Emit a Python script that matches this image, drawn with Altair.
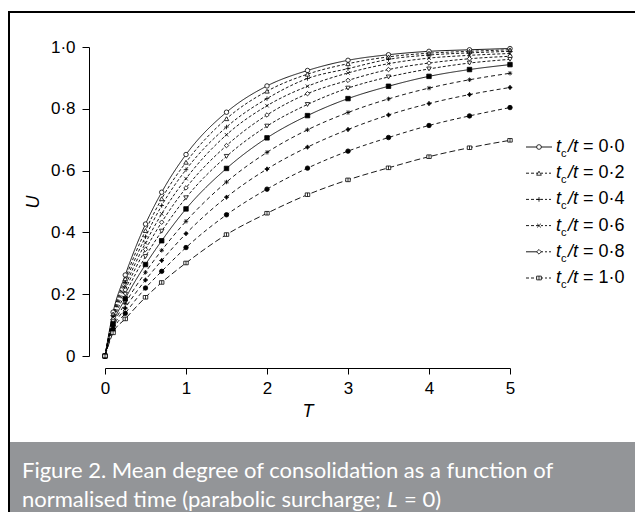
import altair as alt
import pandas as pd

# ---------------- data ----------------
T_VALUES = [0, 0.1, 0.25, 0.5, 0.7, 1.0, 1.5, 2.0, 2.5, 3.0, 3.5, 4.0, 4.5, 5.0]

u_s0 = [0, 0.142, 0.262, 0.427, 0.530, 0.652, 0.789, 0.874, 0.924, 0.957, 0.975, 0.986, 0.991, 0.995]
u_s1 = [0, 0.136, 0.250, 0.406, 0.509, 0.627, 0.768, 0.857, 0.912, 0.946, 0.968, 0.980, 0.986, 0.991]
u_s2 = [0, 0.130, 0.238, 0.386, 0.487, 0.603, 0.741, 0.833, 0.898, 0.930, 0.960, 0.974, 0.981, 0.986]
u_s3 = [0, 0.124, 0.226, 0.366, 0.460, 0.574, 0.716, 0.810, 0.873, 0.916, 0.946, 0.964, 0.973, 0.979]
u_s4 = [0, 0.118, 0.214, 0.345, 0.433, 0.544, 0.681, 0.780, 0.849, 0.892, 0.927, 0.948, 0.962, 0.970]
u_s5 = [0, 0.111, 0.200, 0.322, 0.404, 0.512, 0.646, 0.744, 0.814, 0.867, 0.903, 0.929, 0.948, 0.960]
u_s6 = [0, 0.104, 0.185, 0.296, 0.373, 0.476, 0.607, 0.706, 0.778, 0.833, 0.873, 0.905, 0.927, 0.943]
u_s7 = [0, 0.097, 0.170, 0.271, 0.342, 0.436, 0.563, 0.659, 0.732, 0.788, 0.832, 0.867, 0.894, 0.915]
u_s8 = [0, 0.090, 0.155, 0.246, 0.309, 0.396, 0.514, 0.605, 0.676, 0.733, 0.780, 0.817, 0.846, 0.869]
u_s9 = [0, 0.083, 0.138, 0.220, 0.274, 0.351, 0.457, 0.540, 0.608, 0.663, 0.707, 0.746, 0.777, 0.804]
u_s10 = [0, 0.075, 0.120, 0.190, 0.238, 0.301, 0.393, 0.462, 0.522, 0.570, 0.609, 0.645, 0.674, 0.698]

SERIES = ["s0", "s1", "s2", "s3", "s4", "s5", "s6", "s7", "s8", "s9", "s10"]
SERIES_U = [u_s0, u_s1, u_s2, u_s3, u_s4, u_s5, u_s6, u_s7, u_s8, u_s9, u_s10]

LEGEND_SERIES = ["s0", "s1", "s2", "s3", "s4", "s10"]
LEGEND_VALUES = ["0·0", "0·2", "0·4", "0·6", "0·8", "1·0"]

Y_TICKS = [0, 0.2, 0.4, 0.6, 0.8, 1.0]
X_TICKS = [0, 1, 2, 3, 4, 5]

CAPTION_1 = "Figure 2. Mean degree of consolidation as a function of"
CAPTION_2A = "normalised time (parabolic surcharge;"
CAPTION_2B = "L"
CAPTION_2C = "= 0)"

# ---------------- styles ----------------
FONT = "Liberation Sans"
CAP_FONT = "Lato"
W, H = 405, 309

SHAPES = [
    "circle",
    "triangle-up",
    "M-1,0L1,0M0,-1L0,1",
    "M-0.8,-0.8L0.8,0.8M-0.8,0.8L0.8,-0.8",
    "diamond",
    "triangle-down",
    "square",
    "M-1,0L1,0M0,-1L0,1M-0.7,-0.7L0.7,0.7M-0.7,0.7L0.7,-0.7",
    "M0,-1L0.45,-0.3L1,0L0.45,0.3L0,1L-0.45,0.3L-1,0L-0.45,-0.3Z",
    "circle",
    "M-1,-0.8L1,-0.8L1,0.8L-1,0.8ZM0,-0.8L0,0.8",
]
FILLS = ["white", "white", "white", "white", "white", "white",
         "black", "black", "black", "black", "white"]
DASHES = [[1, 0], [3, 2], [3, 2], [3, 2], [3, 2], [3, 2],
          [1, 0], [4, 3], [4, 3], [4, 3], [6, 3]]
LEG_LEFT_SOLID = [True, False, False, False, True, False]

rows = []
for s, us in zip(SERIES, SERIES_U):
    for t, u in zip(T_VALUES, us):
        rows.append({"series": s, "T": t, "U": u})
df = pd.DataFrame(rows)

leg = pd.DataFrame({
    "idx": list(range(len(LEGEND_VALUES))),
    "series": LEGEND_SERIES,
    "val": ["= " + v for v in LEGEND_VALUES],
    "lsolid": LEG_LEFT_SOLID,
})

one = pd.DataFrame({"k": [0]})

x_enc = alt.X("T:Q", scale=alt.Scale(domain=[0, 5], nice=False, zero=False),
              axis=alt.Axis(values=X_TICKS, format="d", offset=12, tickSize=6, labelPadding=6,
                            labelFlush=False, labelOverlap=False, grid=False,
                            domainColor="black", tickColor="black", labelColor="black",
                            labelFont=FONT, labelFontSize=17,
                            title="T", titleFont=FONT, titleFontSize=18,
                            titleFontStyle="italic", titleFontWeight="normal",
                            titleColor="black", titlePadding=6))
y_enc = alt.Y("U:Q", scale=alt.Scale(domain=[0, 1], nice=False),
              axis=alt.Axis(values=Y_TICKS, offset=16, tickSize=7, labelPadding=7,
                            labelFlush=False, labelOverlap=False, grid=False,
                            labelExpr="datum.value == 0 ? '0' : replace(format(datum.value, '.1f'), '.', '·')",
                            domainColor="black", tickColor="black", labelColor="black",
                            labelFont=FONT, labelFontSize=17,
                            title="U", titleFont=FONT, titleFontSize=18,
                            titleFontStyle="italic", titleFontWeight="normal",
                            titleColor="black", titlePadding=8))

shape_enc = alt.Shape("series:N", scale=alt.Scale(domain=SERIES, range=SHAPES), legend=None)
fill_enc = alt.Fill("series:N", scale=alt.Scale(domain=SERIES, range=FILLS), legend=None)

lines = alt.Chart(df).mark_line(color="black", strokeWidth=0.9, interpolate="monotone").encode(
    x=x_enc, y=y_enc,
    strokeDash=alt.StrokeDash("series:N", scale=alt.Scale(domain=SERIES, range=DASHES), legend=None),
)
points = alt.Chart(df).mark_point(filled=True, stroke="black", strokeWidth=0.8, size=20, opacity=1).encode(
    x="T:Q", y="U:Q", shape=shape_enc, fill=fill_enc,
)
plot = alt.layer(lines, points)

# ---------------- legend (manual) ----------------
ly = alt.Y("idx:Q", scale=alt.Scale(domain=[0, 5], range=[100, 231]), axis=None)
leg_base = alt.Chart(leg)
leg_solid = leg_base.transform_filter("datum.lsolid").mark_rule(color="black", strokeWidth=0.9).encode(
    x=alt.value(421), x2=alt.value(434), y=ly)
leg_dash_l = leg_base.transform_filter("!datum.lsolid").mark_rule(color="black", strokeWidth=0.9, strokeDash=[3, 2]).encode(
    x=alt.value(421), x2=alt.value(434), y=ly)
leg_right = leg_base.transform_filter("datum.idx == 0").mark_rule(color="black", strokeWidth=0.9).encode(
    x=alt.value(434), x2=alt.value(447), y=ly)
leg_right_d = leg_base.transform_filter("datum.idx != 0").mark_rule(color="black", strokeWidth=0.9, strokeDash=[2, 2]).encode(
    x=alt.value(436), x2=alt.value(447), y=ly)
leg_pts = leg_base.mark_point(filled=True, stroke="black", strokeWidth=0.8, size=22, opacity=1).encode(
    x=alt.value(434), y=ly, shape=shape_enc, fill=fill_enc)
t1 = leg_base.mark_text(align="left", baseline="middle", font=FONT, fontSize=18, fontStyle="italic", color="black").encode(
    x=alt.value(451), y=ly, text=alt.value("t"))
t2 = leg_base.mark_text(align="left", baseline="middle", font=FONT, fontSize=11, color="black", dy=7).encode(
    x=alt.value(456), y=ly, text=alt.value("c"))
t3 = leg_base.mark_text(align="left", baseline="middle", font=FONT, fontSize=18, fontStyle="italic", color="black").encode(
    x=alt.value(463), y=ly, text=alt.value("/t"))
t4 = leg_base.mark_text(align="left", baseline="middle", font=FONT, fontSize=18, color="black").encode(
    x=alt.value(478), y=ly, text="val:N")
legend = alt.layer(leg_solid, leg_dash_l, leg_right, leg_right_d, leg_pts, t1, t2, t3, t4)

# ---------------- frame and caption ----------------
grey = alt.Chart(one).mark_rect(color="#939598").encode(
    x=alt.value(-96), x2=alt.value(560), y=alt.value(395), y2=alt.value(500))
frame_v = alt.Chart(one).mark_rule(color="black", strokeWidth=2).encode(
    x=alt.value(-96), y=alt.value(-36), y2=alt.value(500))
frame_h = alt.Chart(one).mark_rule(color="black", strokeWidth=2).encode(
    x=alt.value(-97), x2=alt.value(560), y=alt.value(-35))
cap_style = dict(align="left", baseline="alphabetic", font=CAP_FONT, fontSize=22, color="white")
cap1 = alt.Chart(one).mark_text(**cap_style).encode(x=alt.value(-83), y=alt.value(431), text=alt.value(CAPTION_1))
cap2a = alt.Chart(one).mark_text(**cap_style).encode(x=alt.value(-83), y=alt.value(460), text=alt.value(CAPTION_2A))
cap2b = alt.Chart(one).mark_text(fontStyle="italic", **cap_style).encode(x=alt.value(282), y=alt.value(460), text=alt.value(CAPTION_2B))
cap2c = alt.Chart(one).mark_text(**cap_style).encode(x=alt.value(299), y=alt.value(460), text=alt.value(CAPTION_2C))
deco = alt.layer(grey, frame_v, frame_h, cap1, cap2a, cap2b, cap2c)

chart = alt.layer(deco, plot, legend).resolve_scale(y="independent").properties(
    width=W, height=H,
    autosize=alt.AutoSizeParams(type="none"),
    padding={"left": 97, "top": 39, "right": 125, "bottom": 156},
    background="white",
).configure_view(stroke=None)

chart.save("out.html", embed_options={"renderer": "svg", "actions": False})
